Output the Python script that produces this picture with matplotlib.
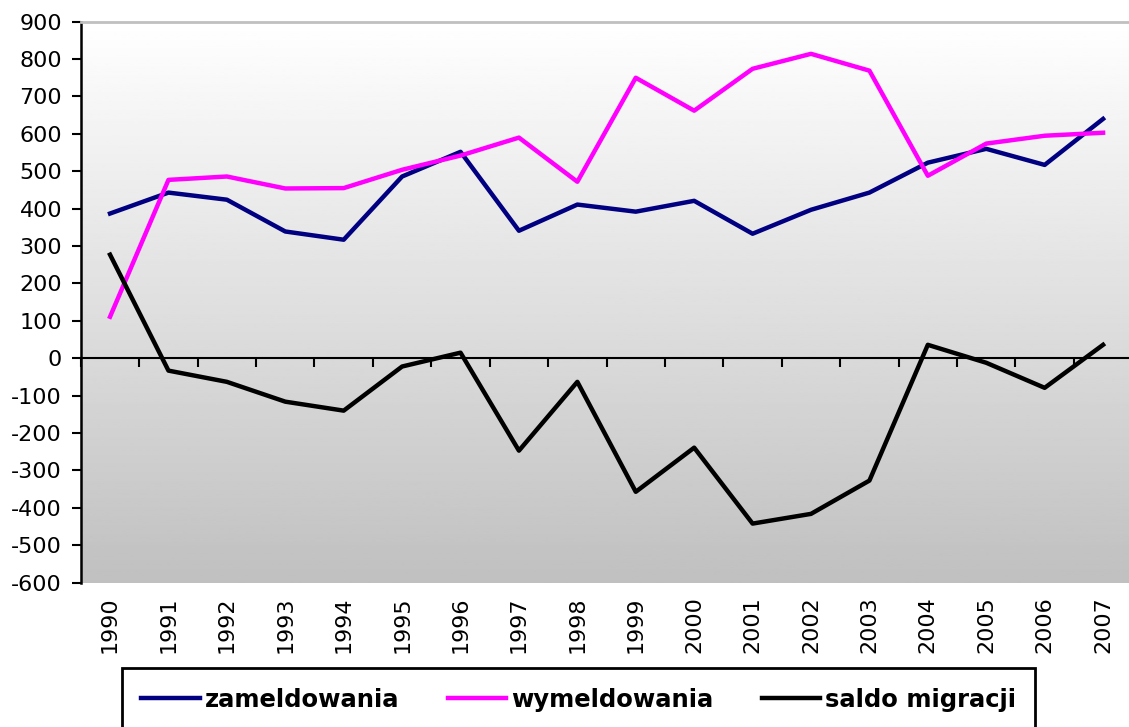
import numpy as np
import matplotlib
matplotlib.use("Agg")
from matplotlib import pyplot as plt

years = [str(y) for y in range(1990, 2008)]
zameldowania = [387, 443, 424, 339, 317, 486, 552, 341, 411, 392, 421, 333, 397, 443, 523, 560, 517, 640]
wymeldowania = [111, 477, 486, 454, 455, 504, 542, 590, 472, 750, 662, 774, 814, 769, 488, 574, 595, 603]
saldo = [277, -33, -63, -116, -140, -22, 15, -247, -63, -357, -239, -442, -416, -327, 36, -12, -79, 36]

plt.rcParams['font.family'] = ['DejaVu Sans']
plt.rcParams['axes.unicode_minus'] = False

fig = plt.figure(figsize=(11.29, 7.27), dpi=100)
ax = fig.add_axes([0.0716, 0.1985, 0.9313, 0.7717])

# gradient background: white at top, grey at bottom
grad = np.linspace(1.0, 192 / 255, 256).reshape(-1, 1)
ax.imshow(grad, cmap='gray', vmin=0, vmax=1, aspect='auto',
          extent=[0, 1, 0, 1], transform=ax.transAxes, zorder=0)

x = np.arange(len(years))
ax.plot(x, zameldowania, color='#000080', lw=3.2, label='zameldowania', zorder=3)
ax.plot(x, wymeldowania, color='#ff00ff', lw=3.2, label='wymeldowania', zorder=3)
ax.plot(x, saldo, color='black', lw=3.2, label='saldo migracji', zorder=3)

ax.set_xlim(-0.5, len(years) - 0.5)
ax.set_ylim(-600, 900)
ax.set_yticks(range(-600, 901, 100))
ax.tick_params(axis='y', direction='out', length=6.5, width=1.5, pad=7, labelsize=16)

# category axis on the zero line, ticks between categories
ax.spines['bottom'].set_position(('data', 0))
ax.spines['bottom'].set_linewidth(1.5)
ax.set_xticks(np.arange(-0.5, len(years), 1.0))
ax.tick_params(axis='x', direction='out', length=6.5, width=1.5, labelbottom=False)
ax.spines['left'].set_linewidth(1.8)
ax.spines['top'].set_color('#c0c0c0')
ax.spines['top'].set_linewidth(2)
ax.spines['right'].set_visible(False)

sec = ax.secondary_xaxis(0.0)
sec.set_xticks(x, labels=years, rotation=90)
sec.tick_params(length=0, pad=10, labelsize=16)
sec.spines['bottom'].set_visible(False)

leg = fig.legend(loc='upper left', bbox_to_anchor=(0.108, 0.081), ncol=3,
                 prop={'weight': 'bold', 'size': 17.5}, frameon=True, fancybox=False,
                 edgecolor='black', framealpha=1, borderpad=0.8, borderaxespad=0,
                 handlelength=2.4, handletextpad=0.2, columnspacing=2.0)
leg.get_frame().set_linewidth(2)

fig.savefig('out.png', dpi=100)
